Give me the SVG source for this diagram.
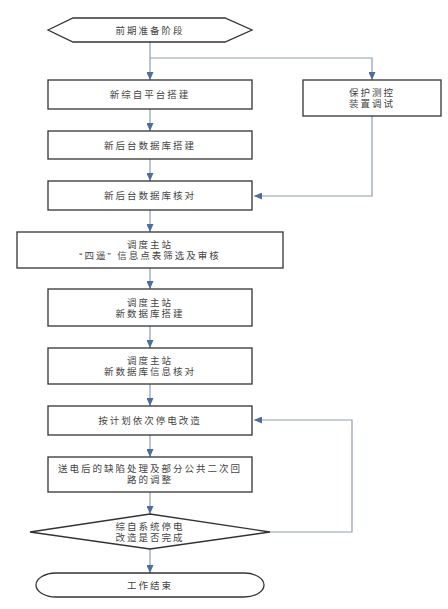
<svg xmlns="http://www.w3.org/2000/svg" width="448" height="609" viewBox="0 0 448 609">
<style>
.box{fill:#fff;stroke:#333;stroke-width:1.3}
.t{font-family:"Liberation Sans","Noto Sans CJK SC","Noto Sans CJK TC",sans-serif;font-size:9.5px;fill:#444;letter-spacing:2px;text-anchor:middle;dominant-baseline:central}
.c{fill:none;stroke:#8d9db3;stroke-width:1.2}
</style>
<defs>
<marker id="ah" markerWidth="8" markerHeight="7" refX="8" refY="3.5" orient="auto" markerUnits="userSpaceOnUse">
<path d="M0,0 L8,3.5 L0,7 Z" fill="#4c6d9e"/>
</marker>
</defs>
<rect width="448" height="609" fill="#fff"/>
<g id="connectors">
<path class="c" d="M150,42 V80" marker-end="url(#ah)"/>
<path class="c" d="M150,58 H372 V80" marker-end="url(#ah)"/>
<path class="c" d="M150,109 V131" marker-end="url(#ah)"/>
<path class="c" d="M150,159 V181" marker-end="url(#ah)"/>
<path class="c" d="M372,116 V196 H254" marker-end="url(#ah)"/>
<path class="c" d="M150,210 V232" marker-end="url(#ah)"/>
<path class="c" d="M150,268 V289" marker-end="url(#ah)"/>
<path class="c" d="M150,326 V348" marker-end="url(#ah)"/>
<path class="c" d="M150,384 V406" marker-end="url(#ah)"/>
<path class="c" d="M150,435 V457" marker-end="url(#ah)"/>
<path class="c" d="M150,492 V514" marker-end="url(#ah)"/>
<path class="c" d="M150,549 V573" marker-end="url(#ah)"/>
<path class="c" d="M270,532 H352 V420 H254" marker-end="url(#ah)"/>
</g>
<g id="start">
<polygon class="box" points="48,30 73,18 225,18 252,30 225,42 73,42"/>
<text class="t" x="150" y="30">前期准备阶段</text>
</g>
<g id="n1">
<rect class="box" x="48" y="80" width="204" height="29"/>
<text class="t" x="150" y="94.5">新综自平台搭建</text>
</g>
<g id="n2">
<rect class="box" x="303" y="80" width="138" height="36"/>
<text class="t" x="372" y="92.5">保护测控</text>
<text class="t" x="372" y="103.5">装置调试</text>
</g>
<g id="n3">
<rect class="box" x="48" y="131" width="204" height="28"/>
<text class="t" x="150" y="145">新后台数据库搭建</text>
</g>
<g id="n4">
<rect class="box" x="48" y="181" width="204" height="29"/>
<text class="t" x="150" y="195.5">新后台数据库核对</text>
</g>
<g id="n5">
<rect class="box" x="17" y="232" width="266" height="36"/>
<text class="t" x="150" y="244.5">调度主站</text>
<text class="t" x="150" y="255.5">“四遥” 信息点表筛选及审核</text>
</g>
<g id="n6">
<rect class="box" x="48" y="289" width="204" height="37"/>
<text class="t" x="150" y="302">调度主站</text>
<text class="t" x="150" y="313">新数据库搭建</text>
</g>
<g id="n7">
<rect class="box" x="48" y="348" width="204" height="36"/>
<text class="t" x="150" y="360.5">调度主站</text>
<text class="t" x="150" y="371.5">新数据库信息核对</text>
</g>
<g id="n8">
<rect class="box" x="48" y="406" width="204" height="29"/>
<text class="t" x="150" y="420">按计划依次停电改造</text>
</g>
<g id="n9">
<rect class="box" x="48" y="457" width="204" height="35"/>
<text class="t" x="150" y="468.5">送电后的缺陷处理及部分公共二次回</text>
<text class="t" x="150" y="479.5">路的调整</text>
</g>
<g id="n10">
<polygon class="box" points="30,532 150,514 270,532 150,549"/>
<text class="t" x="150" y="526.5">综自系统停电</text>
<text class="t" x="150" y="537.5">改造是否完成</text>
</g>
<g id="end">
<rect class="box" x="36" y="573" width="228" height="24" rx="20" ry="12"/>
<text class="t" x="150" y="585">工作结束</text>
</g>
</svg>
